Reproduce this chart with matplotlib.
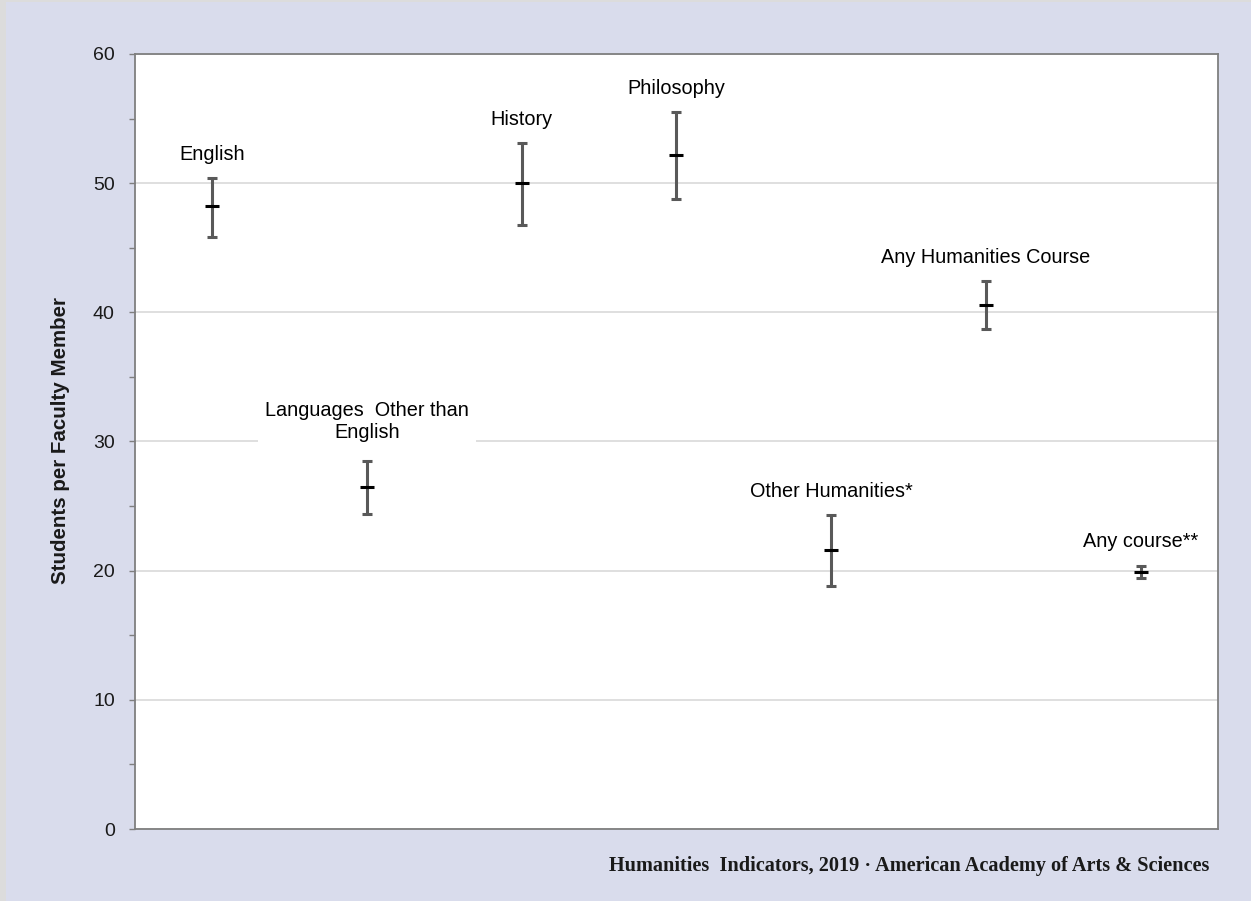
import matplotlib
matplotlib.use("Agg")
import matplotlib.pyplot as plt
from matplotlib.patches import Rectangle
from matplotlib.ticker import MultipleLocator

categories = ["English", "Languages  Other than\nEnglish", "History", "Philosophy",
              "Other Humanities*", "Any Humanities Course", "Any course**"]
values = [48.2, 26.5, 50.0, 52.2, 21.6, 40.6, 19.9]
upper = [50.4, 28.5, 53.1, 55.5, 24.3, 42.4, 20.4]
lower = [45.8, 24.4, 46.8, 48.8, 18.8, 38.7, 19.4]
ylabel = "Students per Faculty Member"
footer = "Humanities  Indicators, 2019 \u00b7 American Academy of Arts & Sciences"

W, H = 1251, 901
fig = plt.figure(figsize=(W / 100, H / 100), dpi=100, facecolor="#DCDCDC")
fig.patches.append(Rectangle((6 / W, 0), 1, 1 - 2 / H, transform=fig.transFigure,
                             facecolor="#D9DCEC", edgecolor="none", zorder=-5))

ax = fig.add_axes([135 / W, 1 - 829 / H, (1218 - 135) / W, (829 - 54) / H])
ax.set_zorder(2)
ax.set_facecolor("white")

x = [i + 0.5 for i in range(len(categories))]
yerr = [[v - l for v, l in zip(values, lower)], [u - v for u, v in zip(upper, values)]]
ax.errorbar(x, values, yerr=yerr, fmt="none", ecolor="#595959", elinewidth=2.2,
            capsize=3.4, capthick=2.2, zorder=3)
ax.plot(x, values, linestyle="none", marker="_", markersize=10.5, markeredgewidth=2.2,
        color="black", zorder=4)

for xi, u, lab in zip(x, upper, categories):
    multi = "\n" in lab
    bb = dict(facecolor="white", edgecolor="none", pad=5) if multi else None
    ax.annotate(lab, (xi, u), xytext=(0, 28 if multi else 17), textcoords="offset points",
                ha="center", va="center", fontsize=14.3, family="Liberation Sans",
                color="black", bbox=bb, zorder=5, linespacing=1.2)

ax.set_xlim(0, len(categories))
ax.set_ylim(0, 60)
ax.yaxis.set_major_locator(MultipleLocator(10))
ax.yaxis.set_minor_locator(MultipleLocator(5))
ax.set_xticks([])
ax.grid(axis="y", which="major", color="#D9D9D9", linewidth=1.2, zorder=1)
ax.set_axisbelow(True)
for s in ax.spines.values():
    s.set_color("#7F7F7F")
    s.set_linewidth(1.3)
ax.tick_params(axis="y", which="major", direction="out", length=4.5, width=1, color="#7F7F7F",
               labelsize=14, pad=10, labelcolor="#1a1a1a")
ax.tick_params(axis="y", which="minor", direction="out", length=4.5, width=1, color="#7F7F7F")
for t in ax.get_yticklabels():
    t.set_family("Liberation Sans")

fig.text(61 / W, 1 - 441 / H, ylabel, rotation=90, ha="center", va="center",
         fontsize=14.8, fontweight="bold", family="Liberation Sans", color="#1a1a1a")

fig.text(1209 / W, 1 - 866 / H, footer, ha="right", va="center", fontsize=14.6,
         fontweight="bold", family="Liberation Serif", color="#1a1a1a")

fig.savefig("out.png", dpi=100, facecolor=fig.get_facecolor())
